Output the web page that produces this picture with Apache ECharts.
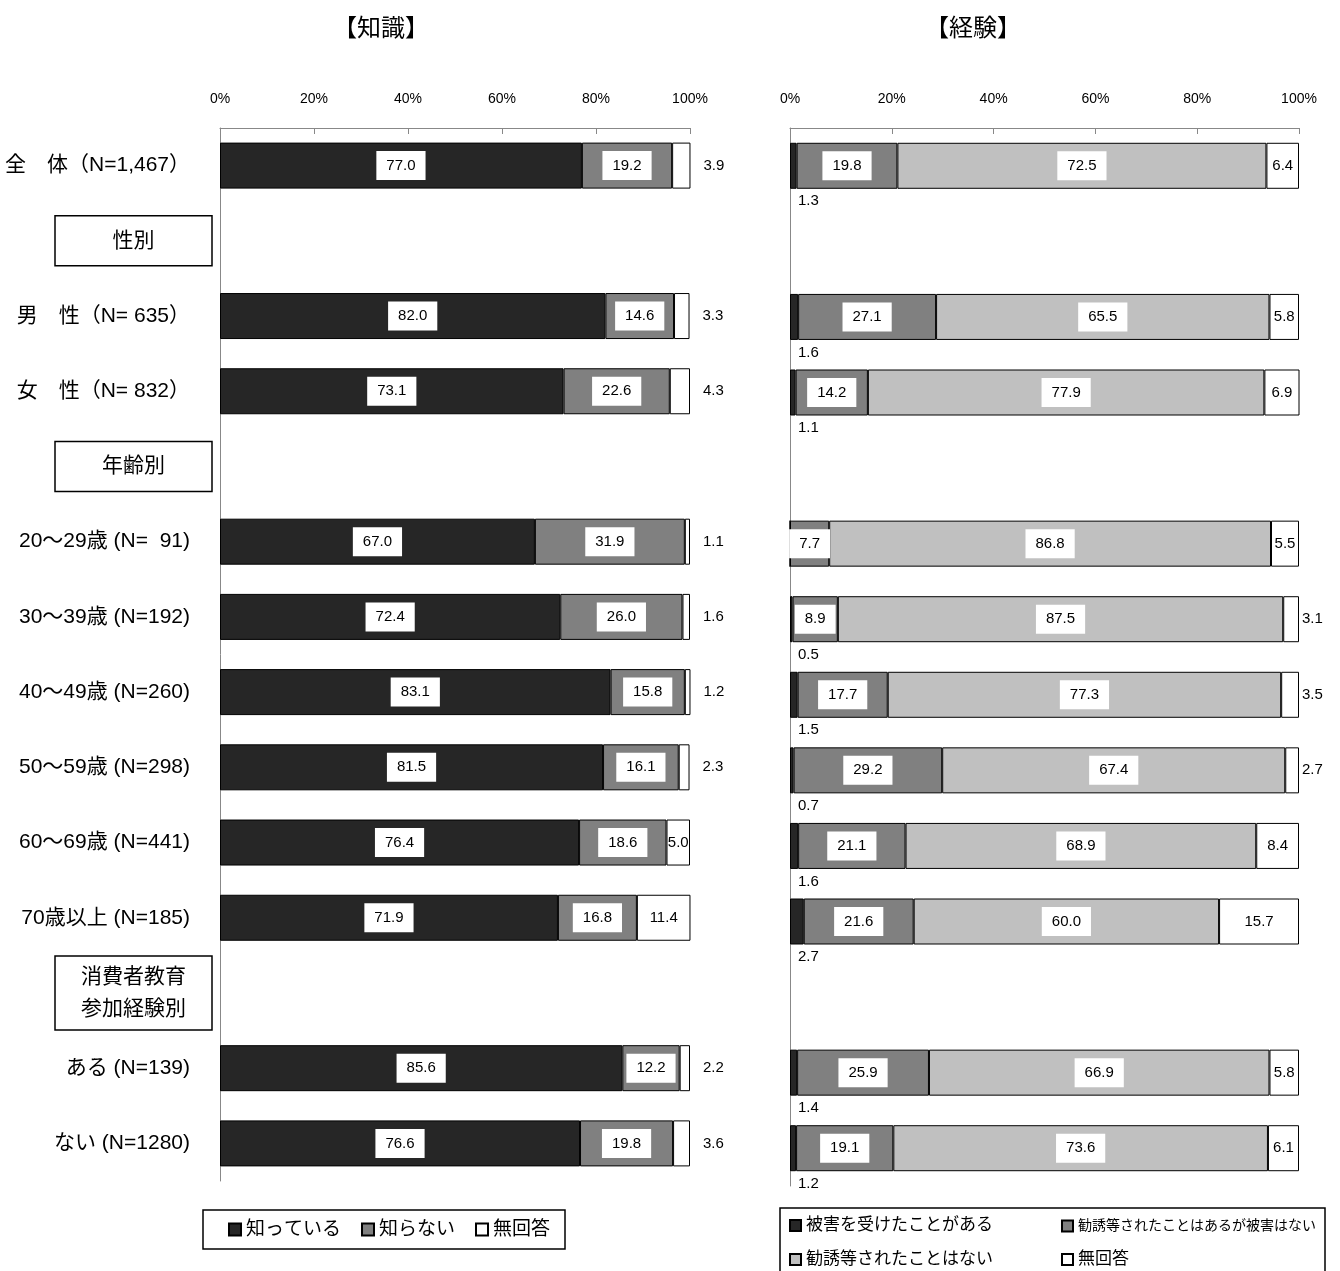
<!DOCTYPE html>
<html>
<head>
<meta charset="utf-8">
<script src="https://cdn.jsdelivr.net/npm/echarts@6/dist/echarts.min.js"></script>
<style>
  html, body { margin: 0; background: #fff; }
  #chart { width: 1340px; height: 1271px; }
</style>
</head>
<body>
<div id="chart"></div>
<script>
// 行ラベル（見出し行はバーなし）
const categories = [
  '全　体（N=1,467）', '性別', '男　性（N= 635）', '女　性（N= 832）', '年齢別',
  '20～29歳 (N=  91)', '30～39歳 (N=192)', '40～49歳 (N=260)', '50～59歳 (N=298)',
  '60～69歳 (N=441)', '70歳以上 (N=185)', '消費者教育\n参加経験別', 'ある (N=139)', 'ない (N=1280)'
]
const headerRows = ['性別', '年齢別', '消費者教育\n参加経験別']
const xTicks = [0, 20, 40, 60, 80, 100]

// 【知識】
const knowYes = [77.0, '-', 82.0, 73.1, '-', 67.0, 72.4, 83.1, 81.5, 76.4, 71.9, '-', 85.6, 76.6]
const knowNo = [19.2, '-', 14.6, 22.6, '-', 31.9, 26.0, 15.8, 16.1, 18.6, 16.8, '-', 12.2, 19.8]
const knowNa = [3.9, '-', 3.3, 4.3, '-', 1.1, 1.6, 1.2, 2.3, 5.0, 11.4, '-', 2.2, 3.6]

// 【経験】
const expDamage = [1.3, '-', 1.6, 1.1, '-', 0, 0.5, 1.5, 0.7, 1.6, 2.7, '-', 1.4, 1.2]
const expSolicited = [19.8, '-', 27.1, 14.2, '-', 7.7, 8.9, 17.7, 29.2, 21.1, 21.6, '-', 25.9, 19.1]
const expNever = [72.5, '-', 65.5, 77.9, '-', 86.8, 87.5, 77.3, 67.4, 68.9, 60.0, '-', 66.9, 73.6]
const expNa = [6.4, '-', 5.8, 6.9, '-', 5.5, 3.1, 3.5, 2.7, 8.4, 15.7, '-', 5.8, 6.1]

const FONT = "'Liberation Sans', 'Noto Sans CJK JP', sans-serif"
const BORDER = { borderColor: '#000', borderWidth: 1 }
const boxLabel = {
	show: true,
	position: 'inside',
	color: '#000',
	fontSize: 15,
	fontFamily: FONT,
	backgroundColor: '#fff',
	padding: [7, 10],
	formatter: (p) => p.value.toFixed(1)
}

const chart = echarts.init(document.getElementById('chart'))

const fmt = (v) => Number(v).toFixed(1)

// 無回答: 小さい値はバーの外側
const naItems = (values, distance) =>
	values.map((v) =>
		v === '-'
			? '-'
			: {
					value: v,
					label: v >= 5 ? { position: 'inside' } : { position: 'right', distance: distance }
			  }
	)

const HEADER_BOX = 157
const yData = categories.map((c) => {
	if (!headerRows.includes(c)) return c
	const lines = c.split('\n')
	const chars = Math.max(...lines.map((l) => l.length))
	const padX = (HEADER_BOX - chars * 21) / 2
	return {
		value: c,
		textStyle: {
			fontSize: 21,
			lineHeight: lines.length > 1 ? 32 : 24,
			padding: lines.length > 1 ? [5, padX] : [13, padX],
			borderColor: '#000',
			borderWidth: 1.5
		}
	}
})

const xAxisBase = (gridIndex) => ({
	gridIndex,
	type: 'value',
	position: 'top',
	min: 0,
	max: 100,
	interval: 20,
	axisLabel: { formatter: '{value}%', fontSize: 14, color: '#000', margin: 22, fontFamily: FONT },
	axisLine: { show: true, lineStyle: { color: '#888' } },
	axisTick: { show: true, inside: true, length: 6, lineStyle: { color: '#888' } },
	splitLine: { show: false }
})

const option = {
	animation: false,
	backgroundColor: '#fff',
	title: [
		{ text: '【知識】', left: 376, top: 12, textAlign: 'center', textStyle: { fontSize: 24, fontWeight: 'normal', color: '#000', fontFamily: FONT } },
		{ text: '【経験】', left: 968, top: 12, textAlign: 'center', textStyle: { fontSize: 24, fontWeight: 'normal', color: '#000', fontFamily: FONT } }
	],
	grid: [
		{ left: 220, width: 470, top: 128, height: 1053 },
		{ left: 790, width: 509, top: 128, height: 1058 }
	],
	xAxis: [xAxisBase(0), xAxisBase(1)],
	yAxis: [
		{
			gridIndex: 0,
			type: 'category',
			inverse: true,
			data: yData,
			axisTick: { show: false },
			axisLine: { show: true, lineStyle: { color: '#888' } },
			axisLabel: { fontSize: 21, color: '#000', margin: 8, padding: [4, 22, 0, 0], fontFamily: FONT }
		},
		{
			gridIndex: 1,
			type: 'category',
			inverse: true,
			data: categories,
			axisTick: { show: false },
			axisLine: { show: true, lineStyle: { color: '#888' } },
			axisLabel: { show: false }
		}
	],
	legend: [
		{
			data: ['知っている', '知らない', '無回答'],
			left: 203,
			top: 1210,
			padding: [10, 15, 10, 25],
			borderColor: '#000',
			borderWidth: 1.5,
			icon: 'rect',
			itemWidth: 12,
			itemHeight: 12,
			itemGap: 20,
			textStyle: { fontSize: 19, color: '#000', fontFamily: FONT }
		},
		{ data: ['被害を受けたことがある'], left: 789, top: 1217, padding: 0, icon: 'rect', itemWidth: 11, itemHeight: 11, textStyle: { fontSize: 17, color: '#000', fontFamily: FONT } },
		{ data: ['勧誘等されたことはあるが被害はない'], left: 1061, top: 1219, padding: 0, icon: 'rect', itemWidth: 11, itemHeight: 11, textStyle: { fontSize: 14, color: '#000', fontFamily: FONT } },
		{ data: ['勧誘等されたことはない'], left: 789, top: 1251, padding: 0, icon: 'rect', itemWidth: 11, itemHeight: 11, textStyle: { fontSize: 17, color: '#000', fontFamily: FONT } },
		{ data: ['無回答'], left: 1061, top: 1251, padding: 0, icon: 'rect', itemWidth: 11, itemHeight: 11, textStyle: { fontSize: 17, color: '#000', fontFamily: FONT } }
	],
	graphic: [
		{ type: 'rect', shape: { x: 780, y: 1208, width: 545, height: 80 }, style: { fill: 'none', stroke: '#000', lineWidth: 1.5 } }
	],
	series: [
		{
			name: '知っている',
			type: 'bar',
			stack: 'know',
			xAxisIndex: 0,
			yAxisIndex: 0,
			barWidth: 46,
			data: knowYes,
			itemStyle: { color: '#262626', ...BORDER },
			label: boxLabel
		},
		{
			name: '知らない',
			type: 'bar',
			stack: 'know',
			xAxisIndex: 0,
			yAxisIndex: 0,
			barWidth: 46,
			data: knowNo,
			itemStyle: { color: '#808080', ...BORDER },
			label: boxLabel
		},
		{
			name: '無回答',
			type: 'bar',
			stack: 'know',
			xAxisIndex: 0,
			yAxisIndex: 0,
			barWidth: 46,
			data: naItems(knowNa, 13),
			itemStyle: { color: '#fff', ...BORDER },
			label: { show: true, color: '#000', fontSize: 15, fontFamily: FONT, formatter: (p) => fmt(p.value) }
		},
		{
			name: '被害を受けたことがある',
			type: 'bar',
			stack: 'exp',
			xAxisIndex: 1,
			yAxisIndex: 1,
			barWidth: 46,
			data: expDamage,
			itemStyle: { color: '#262626', ...BORDER },
			label: {
				show: true,
				position: [8, 51],
				color: '#000',
				fontSize: 15,
				fontFamily: FONT,
				formatter: (p) => (p.value > 0 ? fmt(p.value) : '')
			}
		},
		{
			name: '勧誘等されたことはあるが被害はない',
			type: 'bar',
			stack: 'exp',
			xAxisIndex: 1,
			yAxisIndex: 1,
			barWidth: 46,
			data: expSolicited,
			itemStyle: { color: '#808080', ...BORDER },
			label: boxLabel
		},
		{
			name: '勧誘等されたことはない',
			type: 'bar',
			stack: 'exp',
			xAxisIndex: 1,
			yAxisIndex: 1,
			barWidth: 46,
			data: expNever,
			itemStyle: { color: '#c0c0c0', ...BORDER },
			label: boxLabel
		},
		{
			name: '無回答',
			type: 'bar',
			stack: 'exp',
			xAxisIndex: 1,
			yAxisIndex: 1,
			barWidth: 46,
			data: naItems(expNa, 3),
			itemStyle: { color: '#fff', ...BORDER },
			label: { show: true, color: '#000', fontSize: 15, fontFamily: FONT, formatter: (p) => fmt(p.value) }
		}
	]
}

chart.setOption(option)
</script>
</body>
</html>
